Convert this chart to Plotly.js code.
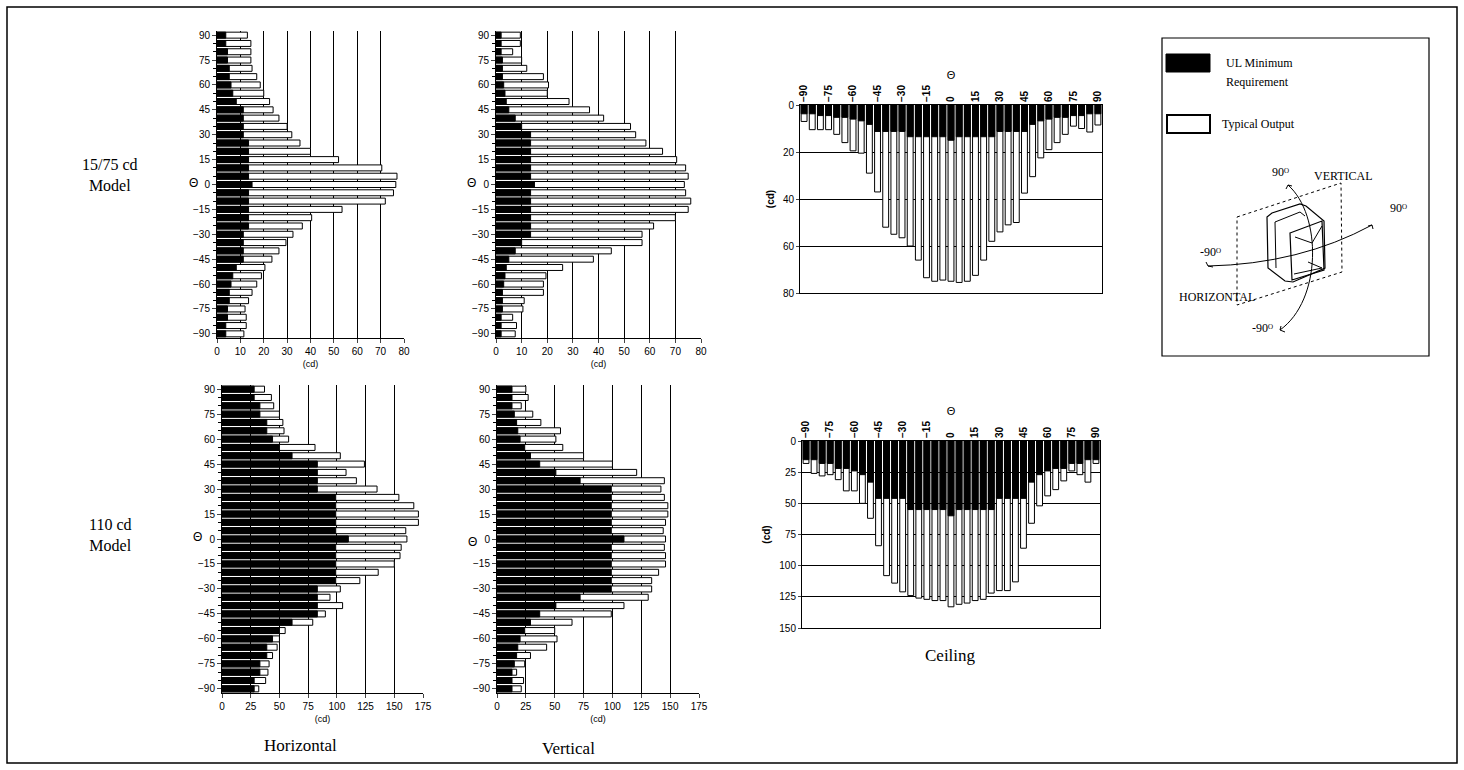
<!DOCTYPE html>
<html><head><meta charset="utf-8">
<script src="https://cdn.plot.ly/plotly-3.0.1.min.js"></script>
<style>body{margin:0;background:#fff}#c{width:1464px;height:770px}</style>
</head><body><div id="c"></div>
<script>
// angles from -90 to 90 step 5
const angles = [-90,-85,-80,-75,-70,-65,-60,-55,-50,-45,-40,-35,-30,-25,-20,-15,-10,-5,0,5,10,15,20,25,30,35,40,45,50,55,60,65,70,75,80,85,90];
const thetaTicks = [-90,-75,-60,-45,-30,-15,0,15,30,45,60,75,90];

// 15/75 cd model
const h15Min = [3.75,3.75,4.5,4.5,5.25,5.25,6,6.75,8.25,11.25,11.25,11.25,11.25,13.5,13.5,13.5,13.5,13.5,15,13.5,13.5,13.5,13.5,13.5,11.25,11.25,11.25,11.25,8.25,6.75,6,5.25,5.25,4.5,4.5,3.75,3.75];
const h15Typ = [11.5,12.5,12.5,12,13.5,15,17,19,20.5,23.5,26.5,29.5,32.5,36.5,40.5,53.5,72,75.5,76.5,77,70.5,52,40,35.5,32,30,26.5,24,22.5,20,18.5,17,15,14.5,14.5,14.5,13];
const v15Min = [2,2,2,2.5,2.5,2.5,3,3.5,4,5,7.5,10,13.5,13.5,13.5,13.5,13.5,13.5,15,13.5,13.5,13.5,13.5,13.5,13.5,10,7.5,5,4,3.5,3,2.5,2.5,2.5,2,2,2];
const v15Typ = [7.5,8,6.5,10.5,11,18.5,18.5,19.5,26,38,45,57,57,61.5,70,75,76,74,73.5,75,74,70.5,65,58.5,54.5,52.5,42,36.5,28.5,20,20.5,18.5,12,10,6.5,9.5,9.5];
const c15Min = [3.75,3.75,4.5,4.5,5.25,5.25,6,6.75,8.25,11.25,11.25,11.25,11.25,13.5,13.5,13.5,13.5,13.5,15,13.5,13.5,13.5,13.5,13.5,11.25,11.25,11.25,11.25,8.25,6.75,6,5.25,5.25,4.5,4.5,3.75,3.75];
const c15Typ = [7,10.5,10.5,10.5,12.5,16,19.5,20.5,29,37,52,55,56.5,60,66,73.5,75,74.5,75,75.5,75,72.5,66,58,54,51,50,37.5,30.5,22.5,19,16,12.5,9,10,11.5,8.5];

// 110 cd model
const h110Min = [28,28,33,33,39,39,44,50,61,83,83,83,83,99,99,99,99,99,110,99,99,99,99,99,83,83,83,83,61,50,44,39,39,33,33,28,28];
const h110Typ = [32,38,40,41,44,48,50,55,79,90,105,94,103,120,136,150,155,156,161,160,171,171,167,154,135,117,108,124,103,81,58,54,53,50,45,43,37];
const v110Min = [13,13,13,15,17,18,20,24,29,37,51,72,99,99,99,99,99,99,110,99,99,99,99,99,99,72,51,37,29,24,20,18,17,15,13,13,13];
const v110Typ = [21,23,17,24,29,43,52,50,65,99,110,131,134,134,140,146,146,145,146,144,146,148,148,145,142,145,121,100,75,57,51,55,38,31,21,27,25];
const c110Min = [15,15,18,18,22,22,24,27,33,46,46,46,46,55,55,55,55,55,60,55,55,55,55,55,46,46,46,46,33,27,24,22,22,18,18,15,15];
const c110Typ = [18,26,28,27,31,40,40,50,62,84,108,114,121,124,126,127,128,128,133,131,130,128,127,122,120,120,113,86,66,52,44,39,32,24,27,33,18];

const W=1464,H=770;
const fx=x=>x/W, fy=y=>1-y/H;
const dx=(a,b)=>[fx(a),fx(b)], dy=(t,b)=>[fy(b),fy(t)];
const NUM={family:'Liberation Sans, Arial, sans-serif',size:10,color:'#000'};
const SER='Liberation Serif, Times New Roman, serif';

const traces=[];
function hbar(k,mn,ty){
  traces.push({type:'bar',orientation:'h',y:angles,x:ty,width:3.6,xaxis:'x'+k,yaxis:'y'+k,
    marker:{color:'#fff',line:{color:'#000',width:1}},showlegend:false});
  traces.push({type:'bar',orientation:'h',y:angles,x:mn,width:3.6,xaxis:'x'+k,yaxis:'y'+k,
    marker:{color:'#000',line:{color:'#000',width:1}},showlegend:false});
}
function vbar(k,mn,ty){
  traces.push({type:'bar',x:angles,y:ty,width:3.6,xaxis:'x'+k,yaxis:'y'+k,
    marker:{color:'#fff',line:{color:'#000',width:1}},showlegend:false});
  traces.push({type:'bar',x:angles,y:mn,width:3.6,xaxis:'x'+k,yaxis:'y'+k,
    marker:{color:'#000',line:{color:'#000',width:1}},showlegend:false});
}
hbar(1,h15Min,h15Typ); hbar(2,v15Min,v15Typ); hbar(3,h110Min,h110Typ); hbar(4,v110Min,v110Typ);
vbar(5,c15Min,c15Typ); vbar(6,c110Min,c110Typ);

function hx(dom,max,dt){return {domain:dom,range:[0,max],dtick:dt,tick0:0,showgrid:true,gridcolor:'#000',gridwidth:1,
  showline:true,linecolor:'#000',ticks:'outside',ticklen:4,tickfont:NUM,zeroline:false,
  title:{text:'(cd)',font:{family:NUM.family,size:9,color:'#000'},standoff:4},fixedrange:true};}
function hy(dom,anchor){return {domain:dom,anchor:anchor,range:[-92.5,92.5],tickvals:thetaTicks,showgrid:false,zeroline:false,
  showline:true,linecolor:'#000',ticks:'outside',ticklen:4,tickfont:NUM,
  minor:{tickvals:angles,ticks:'outside',ticklen:3,tickcolor:'#000'},fixedrange:true};}
function cx(dom,anchor){return {domain:dom,anchor:anchor,side:'top',range:[-92.5,92.5],tickvals:thetaTicks,tickangle:-90,
  tickfont:{family:NUM.family,size:10,color:'#000',weight:'bold'},showline:true,mirror:true,linecolor:'#000',ticks:'',showgrid:false,zeroline:false,
  title:{text:'Θ',font:{family:NUM.family,size:11,color:'#000'},standoff:2},fixedrange:true};}
function cy(dom,anchor,max,dt){return {domain:dom,anchor:anchor,range:[max,0],dtick:dt,tick0:0,showgrid:true,gridcolor:'#000',
  showline:true,mirror:true,linecolor:'#000',ticks:'outside',ticklen:3,tickfont:NUM,zeroline:false,
  title:{text:'(cd)',font:{family:NUM.family,size:10,weight:'bold',color:'#000'},standoff:6},fixedrange:true};}

const layout={width:W,height:H,margin:{l:0,r:0,t:0,b:0},paper_bgcolor:'#fff',plot_bgcolor:'#fff',
  barmode:'overlay',bargap:0,showlegend:false,
  xaxis:Object.assign(hx(dx(217,404),80,10),{anchor:'y'}), yaxis:hy(dy(31,338),'x'),
  xaxis2:Object.assign(hx(dx(496,701),80,10),{anchor:'y2'}), yaxis2:hy(dy(31,338),'x2'),
  xaxis3:Object.assign(hx(dx(222,423),175,25),{anchor:'y3'}), yaxis3:hy(dy(385,693),'x3'),
  xaxis4:Object.assign(hx(dx(497,699),175,25),{anchor:'y4'}), yaxis4:hy(dy(385,693),'x4'),
  xaxis5:cx(dx(800,1102),'y5'), yaxis5:cy(dy(105,293),'x5',80,20),
  xaxis6:cx(dx(802,1100),'y6'), yaxis6:cy(dy(441,628),'x6',150,25),
  annotations:[],shapes:[]};

function txt(x,y,t,size,fam,xa){layout.annotations.push({xref:'paper',yref:'paper',x:fx(x),y:fy(y),text:t,showarrow:false,
  xanchor:xa||'center',yanchor:'middle',font:{family:fam||SER,size:size||16,color:'#000'}});}
txt(110,175,'15/75 cd<br>Model',16);
txt(110,535,'110 cd<br>Model',16);
txt(193,183,'Θ',12,NUM.family); txt(471,183,'Θ',12,NUM.family);
txt(197,537,'Θ',12,NUM.family); txt(472,542,'Θ',12,NUM.family);
txt(300,745,'Horizontal',17); txt(568,748,'Vertical',17); txt(950,655,'Ceiling',17);
// legend
txt(1224,63,'UL Minimum',12,SER,'left'); txt(1224,82,'Requirement',12,SER,'left');
txt(1220,124,'Typical Output',12,SER,'left');
txt(1280,172,'90ᴼ',12,SER); txt(1343,176,'VERTICAL',12,SER); txt(1398,208,'90ᴼ',12,SER);
txt(1210,252,'-90ᴼ',12,SER); txt(1217,297,'HORIZONTAL',12,SER); txt(1262,328,'-90ᴼ',12,SER);

function P(pts,close){return pts.map((p,i)=>(i?'L':'M')+fx(p[0])+','+fy(p[1])).join(' ')+(close?' Z':'');}
function rect(x0,y0,x1,y1,fill,lw,dash){layout.shapes.push({type:'rect',xref:'paper',yref:'paper',x0:fx(x0),x1:fx(x1),y0:fy(y1),y1:fy(y0),
  fillcolor:fill||'rgba(0,0,0,0)',line:{color:'#000',width:lw||1,dash:dash||'solid'}});}
function path(d,lw,dash){layout.shapes.push({type:'path',xref:'paper',yref:'paper',path:d,line:{color:'#000',width:lw||1,dash:dash||'solid'}});}
const pt=p=>fx(p[0])+','+fy(p[1]);
rect(7,7,1457,763,null,1.5);
rect(1162,38,1429,356,null,1.2);
rect(1166,54,1210,72,'#000',1);
rect(1167,115,1210,133,'#fff',2);
// diagram
path(P([[1237,217],[1341,183],[1342,272],[1237,305]],true),1,'dot');
path(P([[1267,217],[1272,213],[1300,204],[1306,206],[1324,221],[1325,268],[1293,282],[1285,281],[1268,268]],true),1.2);
path(P([[1275,222],[1300,212],[1305,216]]),1);
path(P([[1275,222],[1276,268]]),1);
path(P([[1290,233],[1322,221],[1324,270],[1292,280]],true),1.2);
path(P([[1295,237],[1312,243],[1322,226]]),1);
path(P([[1294,274],[1322,268],[1308,262]]),1);
path('M'+pt([1208,266])+' Q'+pt([1300,264])+' '+pt([1372,225]),1);
path('M'+pt([1288,185])+' C'+pt([1322,215])+' '+pt([1322,300])+' '+pt([1280,330]),1);
path(P([[1206,262],[1208,266],[1213,267]]),1);
path(P([[1368,226],[1372,225],[1373,229]]),1);
path(P([[1286,189],[1288,185],[1292,186]]),1);
path(P([[1281,326],[1280,330],[1285,332]]),1);

Plotly.newPlot('c',traces,layout,{displayModeBar:false,staticPlot:true});
</script></body></html>
